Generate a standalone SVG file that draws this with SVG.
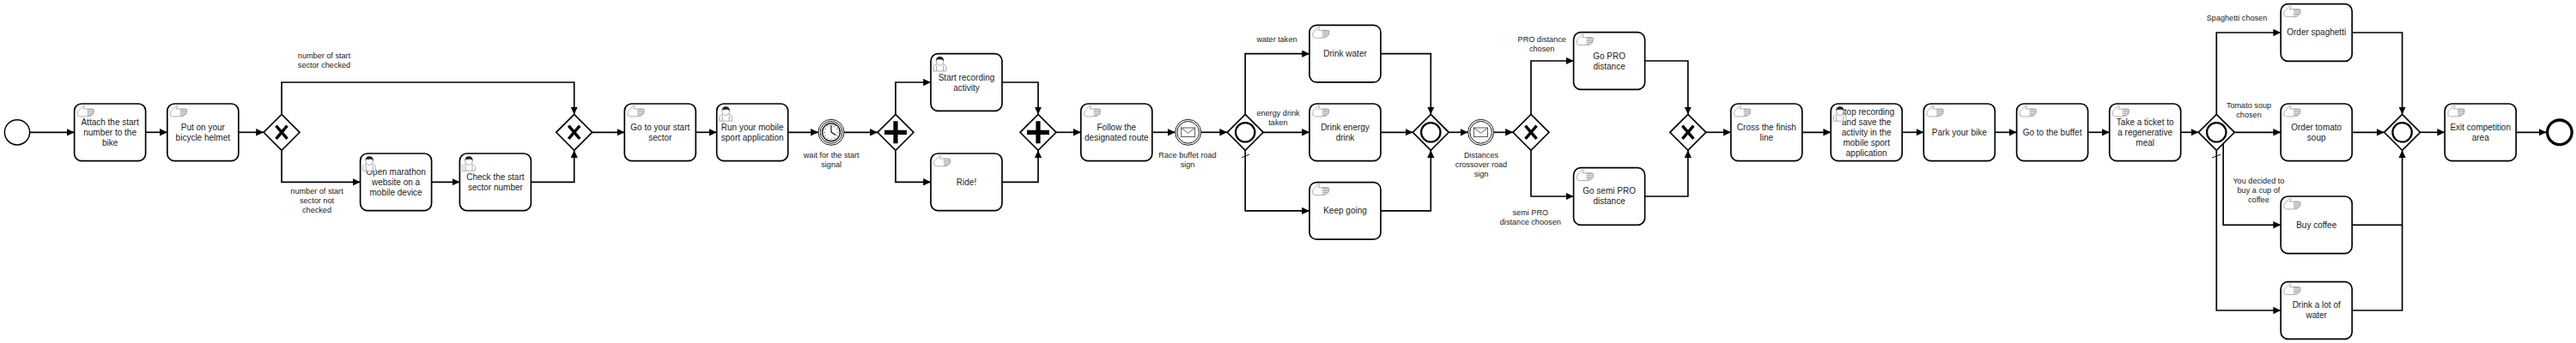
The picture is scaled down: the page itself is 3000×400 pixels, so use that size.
<svg xmlns="http://www.w3.org/2000/svg" width="3000" height="400" viewBox="0 0 3000 400">
<style>
text{font-family:"Liberation Sans",Arial,sans-serif;fill:#222;text-anchor:middle}
.t{font-size:10px}
.l{font-size:9.13px}
.task{fill:#fff;stroke:#000;stroke-width:1.66}
.gw{fill:#fff;stroke:#000;stroke-width:1.66}
.ev{fill:#fff;stroke:#000;stroke-width:1.5}
.ev2{fill:#fff;stroke:#000;stroke-width:.9}
.flow{fill:none;stroke:#000;stroke-width:1.66;marker-end:url(#arrow)}
.line{fill:none;stroke:#000;stroke-width:1.66}
.slash{fill:none;stroke:#000;stroke-width:.9}
.ic{fill:#fff;stroke:#8c8c8c;stroke-width:.7}
.icd{fill:none;stroke:#8c8c8c;stroke-width:.8}
.mk{fill:none;stroke:#000;stroke-width:3.4}
.mkp{fill:none;stroke:#000;stroke-width:5.2}
.mko{fill:none;stroke:#000;stroke-width:2.2}
</style>
<defs>
<marker id="arrow" markerUnits="userSpaceOnUse" markerWidth="10" markerHeight="10" refX="8.8" refY="4.2" orient="auto"><path d="M0,0L8.8,4.2L0,8.4Z" fill="#000"/></marker>
<symbol id="hand" width="22" height="15" viewBox="0 0 22 15" overflow="visible">
<path class="ic" d="M1.5,12.5C0,9.5 1,6.5 4,4.5L7.5,.8C8.8,.2 9.4,1.2 8.6,2.4L7.3,4.5H17.5C20.5,4.5 20.5,7 19.5,8C20,10 19,11 17.5,11.2C16.5,13 15,13.4 13,13.4H4.5C3,13.4 2.2,13 1.5,12.5Z"/>
<path class="icd" d="M12,5.2H20M12,6.9H20M12,8.6H20M12,10.3H19M12,12H17"/>
</symbol>
<symbol id="user" width="16" height="18" viewBox="0 0 16 18" overflow="visible">
<path class="ic" d="M.6,17.2V12.4C.6,10.6 3,9.8 5,9L11,9C13,9.8 15.4,10.6 15.4,12.4V17.2Z"/>
<path class="ic" d="M3.7,5.5C3.7,3 5.6,1.5 8,1.5C10.4,1.5 12.3,3 12.3,5.5C12.3,8.5 10.4,10.5 8,10.5C5.6,10.5 3.7,8.5 3.7,5.5Z"/>
<path d="M3.6,5.8C3,2.4 5,.3 8,.3C11,.3 13,2.4 12.4,5.8C11.8,4.2 10.6,3.6 8.6,3.8C6.6,4 5,3.8 4.4,3.8C4,4.4 3.8,5 3.6,5.8Z" fill="#222"/>
<path class="icd" d="M4,10.8V17M12,10.8V17"/>
</symbol>
<g id="xmark"><path class="mk" d="M-6.5,-7.6L6.5,7.6M6.5,-7.6L-6.5,7.6"/></g>
<g id="plusmark"><path class="mkp" d="M-13,0H13M0,-13V13"/></g>
<circle id="omark" r="11.2" class="mko"/>
<polygon id="diamond" class="gw" points="0,-21 21,0 0,21 -21,0"/>
<g id="envelope"><rect x="-8" y="-5.3" width="16" height="10.6" fill="#fff" stroke="#333" stroke-width=".8"/><path d="M-8,-5.3L0,1L8,-5.3" fill="none" stroke="#333" stroke-width=".8"/></g>
</defs>
<rect width="3000" height="400" fill="#fff"/>

<g id="connectors">
<path class="flow" d="M35,154.3H86.6"/>
<path class="flow" d="M169.6,154.3H194.8"/>
<path class="flow" d="M277.8,154.3H307"/>
<path class="flow" d="M328,133V96H668.7V133.3"/>
<path class="flow" d="M328,175.5V212.3H419.6"/>
<path class="flow" d="M502.6,212.3H535.4"/>
<path class="flow" d="M618.4,212.3H668.7V175.3"/>
<path class="flow" d="M689.7,154.3H727.3"/>
<path class="flow" d="M810.3,154.3H834.7"/>
<path class="flow" d="M917.7,154.3H953"/>
<path class="flow" d="M983,154.3H1022"/>
<path class="flow" d="M1043,133V96H1084"/>
<path class="flow" d="M1043,175.5V212.3H1084"/>
<path class="flow" d="M1167,96H1209V133.3"/>
<path class="flow" d="M1167,212.3H1209V175.3"/>
<path class="flow" d="M1230,154.3H1258.8"/>
<path class="flow" d="M1341.8,154.3H1368.7"/>
<path class="flow" d="M1398.7,154.3H1429.2"/>
<path class="flow" d="M1450.2,133V62.7H1525"/>
<path class="flow" d="M1471.2,154.3H1525"/>
<path class="flow" d="M1450.2,175.5V245.9H1525"/>
<path class="slash" d="M1445.7,184L1455,180"/>
<path class="flow" d="M1608,62.7H1666.3V133.3"/>
<path class="flow" d="M1608,154.3H1645.3"/>
<path class="flow" d="M1608,245.9H1666.3V175.3"/>
<path class="flow" d="M1687.3,154.3H1709.6"/>
<path class="flow" d="M1739.6,154.3H1762"/>
<path class="flow" d="M1783,133V71H1832.6"/>
<path class="flow" d="M1783,175.5V229H1832.6"/>
<path class="flow" d="M1915.6,71H1965.8V133.3"/>
<path class="flow" d="M1915.6,229H1965.8V175.3"/>
<path class="flow" d="M1986.8,154.3H2015.8"/>
<path class="flow" d="M2098.8,154.3H2132.2"/>
<path class="flow" d="M2215.2,154.3H2240.3"/>
<path class="flow" d="M2323.3,154.3H2348.6"/>
<path class="flow" d="M2431.6,154.3H2456.7"/>
<path class="flow" d="M2539.7,154.3H2560.3"/>
<path class="flow" d="M2581.3,133V38H2656.2"/>
<path class="flow" d="M2602.3,154.3H2656.2"/>
<path class="flow" d="M2589.2,167V262.3H2656.2"/>
<path class="flow" d="M2581.3,175.5V362H2656.2"/>
<path class="slash" d="M2576,184L2586.4,180"/>
<path class="flow" d="M2739.2,38H2797.6V133.3"/>
<path class="flow" d="M2739.2,154.3H2776.6"/>
<path class="line" d="M2739.2,262.3H2797.6"/>
<path class="flow" d="M2739.2,362H2797.6V175.3"/>
<path class="flow" d="M2818.6,154.3H2847.2"/>
<path class="flow" d="M2930.2,154.3H2965.5"/>
</g>

<g id="start"><circle cx="20" cy="154.3" r="14.6" class="ev"/></g>

<g id="t1"><rect class="task" x="86.6" y="121" width="83" height="66.6" rx="8.3"/><text class="t"><tspan x="128.1" y="145.7">Attach the start</tspan><tspan x="128.1" y="157.7">number to the</tspan><tspan x="128.1" y="169.7">bike</tspan></text><use href="#hand" x="89.5" y="122.5"/></g>
<g id="t2"><rect class="task" x="194.8" y="121" width="83" height="66.6" rx="8.3"/><text class="t"><tspan x="236.3" y="151.7">Put on your</tspan><tspan x="236.3" y="163.7">bicycle helmet</tspan></text><use href="#hand" x="197.7" y="122.5"/></g>
<g id="g1"><use href="#diamond" x="328" y="154.3"/><use href="#xmark" x="328" y="154.3"/></g>
<g id="t3"><rect class="task" x="419.6" y="179" width="83" height="66.6" rx="8.3"/><text class="t"><tspan x="461.1" y="203.7">Open marathon</tspan><tspan x="461.1" y="215.7">website on a</tspan><tspan x="461.1" y="227.7">mobile device</tspan></text><use href="#user" x="422.2" y="182"/></g>
<g id="t4"><rect class="task" x="535.4" y="179" width="83" height="66.6" rx="8.3"/><text class="t"><tspan x="576.9" y="209.7">Check the start</tspan><tspan x="576.9" y="221.7">sector number</tspan></text><use href="#user" x="538" y="182"/></g>
<g id="g2"><use href="#diamond" x="668.7" y="154.3"/><use href="#xmark" x="668.7" y="154.3"/></g>
<g id="t5"><rect class="task" x="727.3" y="121" width="83" height="66.6" rx="8.3"/><text class="t"><tspan x="768.8" y="151.7">Go to your start</tspan><tspan x="768.8" y="163.7">sector</tspan></text><use href="#hand" x="730.2" y="122.5"/></g>
<g id="t6"><rect class="task" x="834.7" y="121" width="83" height="66.6" rx="8.3"/><text class="t"><tspan x="876.2" y="151.7">Run your mobile</tspan><tspan x="876.2" y="163.7">sport application</tspan></text><use href="#user" x="837.3" y="124"/></g>
<g id="timer"><circle cx="968" cy="154.3" r="15" class="ev2"/><circle cx="968" cy="154.3" r="12.8" class="ev2"/><circle cx="968" cy="154.3" r="10.4" fill="#fff" stroke="#000" stroke-width="1.2"/><path d="M968,154.3V146.5M968,154.3L973.5,157.5" fill="none" stroke="#000" stroke-width="1.1"/><path d="M968,145.6v1.6M968,161.4v1.6M959.3,154.3h1.6M975.1,154.3h1.6M963.6,146.7l.8,1.4M971.6,160.5l.8,1.4M960.4,149.9l1.4,.8M974.2,157.9l1.4,.8M972.4,146.7l-.8,1.4M964.4,160.5l-.8,1.4M975.6,149.9l-1.4,.8M961.8,157.9l-1.4,.8" stroke="#000" stroke-width=".6" fill="none"/><text class="l"><tspan x="968.2" y="183.7">wait for the start</tspan><tspan x="968.2" y="194.7">signal</tspan></text></g>
<g id="g3"><use href="#diamond" x="1043" y="154.3"/><use href="#plusmark" x="1043" y="154.3"/></g>
<g id="t7"><rect class="task" x="1084" y="62.7" width="83" height="66.6" rx="8.3"/><text class="t"><tspan x="1125.5" y="93.7">Start recording</tspan><tspan x="1125.5" y="105.7">activity</tspan></text><use href="#user" x="1086.6" y="65.7"/></g>
<g id="t8"><rect class="task" x="1084" y="179" width="83" height="66.6" rx="8.3"/><text class="t"><tspan x="1125.5" y="215.7">Ride!</tspan></text><use href="#hand" x="1086.9" y="180.5"/></g>
<g id="g4"><use href="#diamond" x="1209" y="154.3"/><use href="#plusmark" x="1209" y="154.3"/></g>
<g id="t9"><rect class="task" x="1258.8" y="121" width="83" height="66.6" rx="8.3"/><text class="t"><tspan x="1300.3" y="151.7">Follow the</tspan><tspan x="1300.3" y="163.7">designated route</tspan></text><use href="#hand" x="1261.7" y="122.5"/></g>
<g id="msg1"><circle cx="1383.7" cy="154.3" r="15" class="ev2"/><circle cx="1383.7" cy="154.3" r="12.8" class="ev2"/><use href="#envelope" x="1383.7" y="154.3"/><text class="l"><tspan x="1383" y="183.7">Race buffet road</tspan><tspan x="1383" y="194.7">sign</tspan></text></g>
<g id="g5"><use href="#diamond" x="1450.2" y="154.3"/><use href="#omark" x="1450.2" y="154.3"/></g>
<g id="lab-water"><text class="l" x="1487" y="49">water taken</text></g>
<g id="lab-energy"><text class="l"><tspan x="1488.5" y="134.7">energy drink</tspan><tspan x="1488.5" y="145.7">taken</tspan></text></g>
<g id="t10"><rect class="task" x="1525" y="29.3" width="83" height="66.6" rx="8.3"/><text class="t"><tspan x="1566.5" y="66.1">Drink water</tspan></text><use href="#hand" x="1527.9" y="30.8"/></g>
<g id="t11"><rect class="task" x="1525" y="121" width="83" height="66.6" rx="8.3"/><text class="t"><tspan x="1566.5" y="151.7">Drink energy</tspan><tspan x="1566.5" y="163.7">drink</tspan></text><use href="#hand" x="1527.9" y="122.5"/></g>
<g id="t12"><rect class="task" x="1525" y="212.6" width="83" height="66.6" rx="8.3"/><text class="t"><tspan x="1566.5" y="249.3">Keep going</tspan></text><use href="#hand" x="1527.9" y="214.1"/></g>
<g id="g6"><use href="#diamond" x="1666.3" y="154.3"/><use href="#omark" x="1666.3" y="154.3"/></g>
<g id="msg2"><circle cx="1724.6" cy="154.3" r="15" class="ev2"/><circle cx="1724.6" cy="154.3" r="12.8" class="ev2"/><use href="#envelope" x="1724.6" y="154.3"/><text class="l"><tspan x="1725" y="183.7">Distances</tspan><tspan x="1725" y="194.7">crossover road</tspan><tspan x="1725" y="205.7">sign</tspan></text></g>
<g id="g7"><use href="#diamond" x="1783" y="154.3"/><use href="#xmark" x="1783" y="154.3"/></g>
<g id="lab-pro"><text class="l"><tspan x="1795.7" y="49">PRO distance</tspan><tspan x="1795.7" y="60">chosen</tspan></text></g>
<g id="lab-semi"><text class="l"><tspan x="1782.3" y="250.7">semi PRO</tspan><tspan x="1782.3" y="261.7">distance choosen</tspan></text></g>
<g id="t13"><rect class="task" x="1832.6" y="37.7" width="83" height="66.6" rx="8.3"/><text class="t"><tspan x="1874.1" y="68.7">Go PRO</tspan><tspan x="1874.1" y="80.7">distance</tspan></text><use href="#hand" x="1835.5" y="39.2"/></g>
<g id="t14"><rect class="task" x="1832.6" y="195.7" width="83" height="66.6" rx="8.3"/><text class="t"><tspan x="1874.1" y="226.4">Go semi PRO</tspan><tspan x="1874.1" y="238.4">distance</tspan></text><use href="#hand" x="1835.5" y="197.2"/></g>
<g id="g8"><use href="#diamond" x="1965.8" y="154.3"/><use href="#xmark" x="1965.8" y="154.3"/></g>
<g id="t15"><rect class="task" x="2015.8" y="121" width="83" height="66.6" rx="8.3"/><text class="t"><tspan x="2057.3" y="151.7">Cross the finish</tspan><tspan x="2057.3" y="163.7">line</tspan></text><use href="#hand" x="2018.7" y="122.5"/></g>
<g id="t16"><rect class="task" x="2132.2" y="121" width="83" height="66.6" rx="8.3"/><text class="t"><tspan x="2173.7" y="133.7">Stop recording</tspan><tspan x="2173.7" y="145.7">and save the</tspan><tspan x="2173.7" y="157.7">activity in the</tspan><tspan x="2173.7" y="169.7">mobile sport</tspan><tspan x="2173.7" y="181.7">application</tspan></text><use href="#user" x="2134.8" y="124"/></g>
<g id="t17"><rect class="task" x="2240.3" y="121" width="83" height="66.6" rx="8.3"/><text class="t"><tspan x="2281.8" y="157.7">Park your bike</tspan></text><use href="#hand" x="2243.2" y="122.5"/></g>
<g id="t18"><rect class="task" x="2348.6" y="121" width="83" height="66.6" rx="8.3"/><text class="t"><tspan x="2390.1" y="157.7">Go to the buffet</tspan></text><use href="#hand" x="2351.5" y="122.5"/></g>
<g id="t19"><rect class="task" x="2456.7" y="121" width="83" height="66.6" rx="8.3"/><text class="t"><tspan x="2498.2" y="145.7">Take a ticket to</tspan><tspan x="2498.2" y="157.7">a regenerative</tspan><tspan x="2498.2" y="169.7">meal</tspan></text><use href="#hand" x="2459.6" y="122.5"/></g>
<g id="g9"><use href="#diamond" x="2581.3" y="154.3"/><use href="#omark" x="2581.3" y="154.3"/></g>
<g id="lab-spag"><text class="l" x="2605" y="24">Spaghetti chosen</text></g>
<g id="lab-tom"><text class="l"><tspan x="2619" y="126">Tomato soup</tspan><tspan x="2619" y="137">chosen</tspan></text></g>
<g id="lab-cof"><text class="l"><tspan x="2630.4" y="213.7">You decided to</tspan><tspan x="2630.4" y="224.7">buy a cup of</tspan><tspan x="2630.4" y="235.7">coffee</tspan></text></g>
<g id="t20"><rect class="task" x="2656.2" y="4.7" width="83" height="66.6" rx="8.3"/><text class="t"><tspan x="2697.7" y="41.4">Order spaghetti</tspan></text><use href="#hand" x="2659.1" y="6.2"/></g>
<g id="t21"><rect class="task" x="2656.2" y="121" width="83" height="66.6" rx="8.3"/><text class="t"><tspan x="2697.7" y="151.7">Order tomato</tspan><tspan x="2697.7" y="163.7">soup</tspan></text><use href="#hand" x="2659.1" y="122.5"/></g>
<g id="t22"><rect class="task" x="2656.2" y="229" width="83" height="66.6" rx="8.3"/><text class="t"><tspan x="2697.7" y="265.7">Buy coffee</tspan></text><use href="#hand" x="2659.1" y="230.5"/></g>
<g id="t23"><rect class="task" x="2656.2" y="328.7" width="83" height="66.6" rx="8.3"/><text class="t"><tspan x="2697.7" y="359.4">Drink a lot of</tspan><tspan x="2697.7" y="371.4">water</tspan></text><use href="#hand" x="2659.1" y="330.2"/></g>
<g id="g10"><use href="#diamond" x="2797.6" y="154.3"/><use href="#omark" x="2797.6" y="154.3"/></g>
<g id="t24"><rect class="task" x="2847.2" y="121" width="83" height="66.6" rx="8.3"/><text class="t"><tspan x="2888.7" y="151.7">Exit competition</tspan><tspan x="2888.7" y="163.7">area</tspan></text><use href="#hand" x="2850.1" y="122.5"/></g>
<g id="end"><circle cx="2980.9" cy="154.3" r="14.3" fill="#fff" stroke="#000" stroke-width="3.3"/></g>
<g id="lab-checked"><text class="l"><tspan x="377.5" y="68">number of start</tspan><tspan x="377.5" y="79">sector checked</tspan></text></g>
<g id="lab-notchecked"><text class="l"><tspan x="369" y="226">number of start</tspan><tspan x="369" y="237">sector not</tspan><tspan x="369" y="248">checked</tspan></text></g>
</svg>
